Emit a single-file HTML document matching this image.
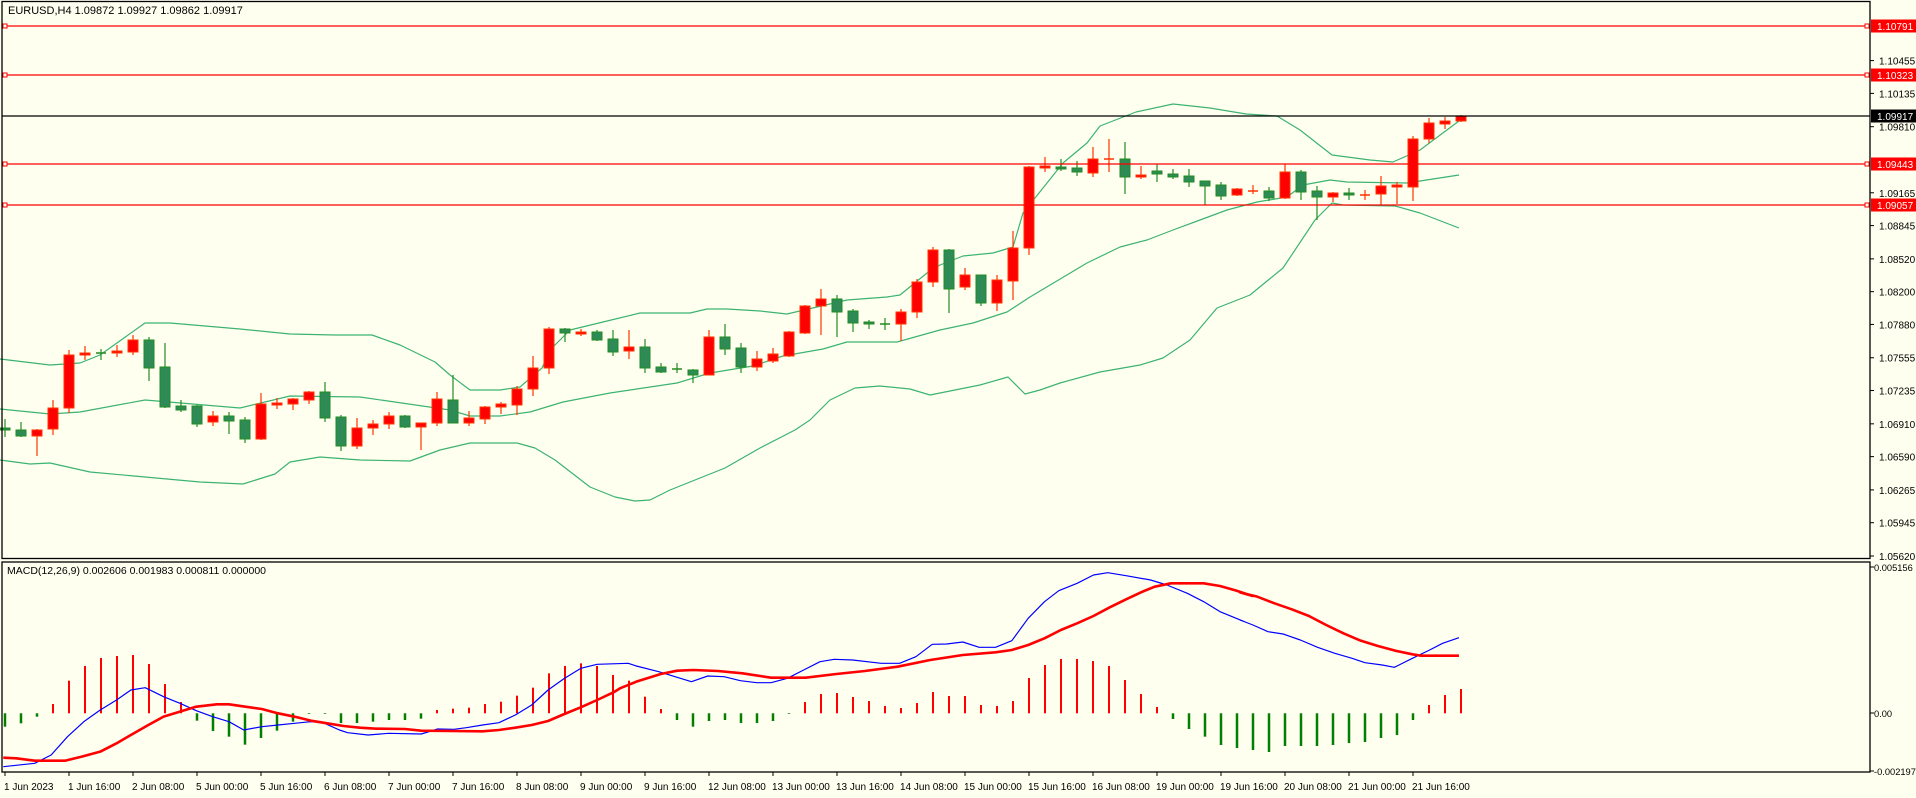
<!DOCTYPE html>
<html><head><meta charset="utf-8"><style>
html,body{margin:0;padding:0;background:#fffff0;}
svg{display:block;font-family:"Liberation Sans",sans-serif;}
</style></head><body>
<svg id="c" width="1916" height="798" viewBox="0 0 1916 798" xmlns="http://www.w3.org/2000/svg">
<rect x="0" y="0" width="1916" height="798" fill="#fffff0"/>
<g id="g"></g>
<text x="8" y="14" font-size="11" fill="#000">EURUSD,H4  1.09872 1.09927 1.09862 1.09917</text>
<text x="7" y="574" font-size="10.5" fill="#000">MACD(12,26,9) 0.002606 0.001983 0.000811 0.000000</text>
</svg>
<script>
const NS="http://www.w3.org/2000/svg",g=document.getElementById('g');
function el(t,a,txt){const e=document.createElementNS(NS,t);for(const k in a)e.setAttribute(k,a[k]);if(txt!==undefined)e.textContent=txt;g.appendChild(e);return e;}
const C=[['g',428,430,419,437],['g',430,436,422,437],['r',436,430,429,456],['r',429,408,400,435],['r',408,355,350,413],['r',355,353,346,360],['g',353,353,349,360],['r',353,351,345,357],['r',352,340,335,355],['g',340,368,337,381],
['g',367,407,343,408],['g',406,410,400,412],['g',406,424,405,427],['r',422,416,411,426],['g',416,421,412,434],['g',420,439,417,443],['r',439,404,393,440],['r',405,403,398,409],['r',404,399,398,410],['r',400,392,391,404],
['g',392,418,382,422],['g',417,446,415,451],['r',446,428,418,449],['r',428,424,420,435],['r',424,416,412,429],['g',416,427,415,428],['r',427,423,423,450],['r',423,399,392,426],['g',400,423,375,423],['r',423,418,411,426],
['r',419,407,406,424],['r',407,404,402,414],['r',405,389,386,415],['r',389,368,356,396],['r',368,329,327,374],['g',329,333,328,342],['r',334,332,329,336],['g',332,340,330,341],['g',339,352,330,356],['r',351,347,330,359],
['g',347,368,339,373],['g',367,372,363,373],['g',369,369,363,373],['g',370,375,369,383],['r',375,337,330,375],['g',337,349,324,355],['g',348,367,343,373],['r',367,359,351,371],['r',361,354,348,363],['r',356,332,331,357],
['r',333,306,305,334],['r',306,299,289,335],['g',299,312,295,337],['g',311,323,309,332],['g',322,324,320,329],['g',324,324,318,330],['r',324,312,309,341],['r',312,282,279,318],['r',282,250,247,287],['g',250,289,249,313],
['r',287,275,268,290],['g',275,303,275,306],['r',303,280,275,311],['r',281,248,231,300],['r',248,167,166,255],['r',168,166,157,172],['g',167,169,159,171],['g',168,172,161,176],['r',173,159,147,177],['r',159,159,139,172],
['g',159,177,142,194],['r',177,175,166,179],['g',171,174,164,182],['g',174,177,169,179],['g',176,182,169,187],['g',181,186,181,205],['g',185,196,182,200],['r',195,189,188,196],['r',191,191,185,194],['g',191,198,187,201],
['r',198,172,164,199],['g',172,192,170,200],['g',191,197,186,220],['r',197,193,192,202],['g',193,195,188,200],['r',195,195,190,200],['r',194,186,176,205],['r',187,185,182,204],['r',187,139,136,201],['r',139,123,118,143],
['r',124,121,117,129],['r',121,116,115,122]];
const X=i=>5+16*i;
function poly(pts,col,w){el('polyline',{points:pts.map(p=>p.join(',')).join(' '),fill:'none',stroke:col,'stroke-width':w,'stroke-linejoin':'round'});}
const up=[[0,359],[50,365],[80,363],[100,355],[145,323],[170,323],[240,329],[290,334],[335,335],[372,335],[400,345],[435,362],[450,375],[470,390],[500,390],[520,387],[542,368],[550,350],[570,330],[603,322],[640,313],[690,313],[707,309],[727,309],[760,311],[787,314],[817,307],[847,300],[887,297],[900,295],[927,273],[940,265],[963,256],[993,253],[1013,247],[1023,213],[1043,188],[1063,163],[1087,143],[1100,126],[1136,112],[1173,104],[1210,108],[1246,114],[1277,116],[1300,130],[1332,155],[1370,160],[1393,162],[1420,150],[1459,121]];
const mid=[[0,409],[50,414],[80,412],[145,400],[240,408],[290,396],[360,397],[450,410],[470,416],[500,416],[530,412],[563,402],[610,393],[677,383],[710,373],[753,366],[783,356],[823,349],[847,342],[897,342],[940,330],[973,323],[1007,312],[1030,297],[1087,263],[1120,247],[1147,240],[1173,230],[1200,220],[1227,210],[1257,202],[1287,197],[1303,185],[1330,180],[1347,182],[1407,183],[1459,175]];
const lo=[[0,460],[30,464],[50,463],[90,472],[145,477],[200,482],[243,484],[275,474],[290,462],[320,457],[360,460],[410,461],[440,450],[470,443],[517,443],[535,448],[555,460],[590,487],[615,497],[635,501],[650,500],[670,490],[700,478],[725,468],[760,448],[795,430],[810,420],[830,400],[855,388],[880,386],[910,389],[930,395],[955,390],[980,385],[1008,377],[1025,394],[1040,390],[1060,383],[1100,372],[1140,365],[1163,358],[1190,340],[1217,308],[1250,295],[1283,268],[1315,220],[1332,203],[1343,205],[1395,206],[1420,213],[1459,228]];
[up,mid,lo].forEach(p=>poly(p,'#3cb371',1.2));
C.forEach((c,i)=>{const x=X(i),red=c[0]=='r',fill=red?'#ff0000':'#2e8b57',st=red?'#ff3300':'#228b22';
el('line',{x1:x,y1:c[3],x2:x,y2:c[4],stroke:st,'stroke-width':1.2});
const t=Math.min(c[1],c[2]),h=Math.abs(c[1]-c[2]);
if(h<1)el('line',{x1:x-5,y1:t,x2:x+5,y2:t,stroke:st,'stroke-width':1.5});
else el('rect',{x:x-5,y:t,width:10,height:h,fill:fill,stroke:st,'stroke-width':1});});
[[26,'1.10791'],[75,'1.10323'],[164,'1.09443'],[205,'1.09057']].forEach(([y,t])=>{
el('line',{x1:2,y1:y,x2:1870,y2:y,stroke:'#ff0000','stroke-width':1.2});
el('rect',{x:3,y:y-2,width:4,height:4,fill:'#fffff0',stroke:'#ff0000','stroke-width':1});
el('rect',{x:1865,y:y-2,width:4,height:4,fill:'#fffff0',stroke:'#ff0000','stroke-width':1});});
el('line',{x1:2,y1:116,x2:1870,y2:116,stroke:'#000','stroke-width':1.2});
const ticks=['1.10455','1.10135','1.09810','1.09165','1.08845','1.08520','1.08200','1.07880','1.07555','1.07235','1.06910','1.06590','1.06265','1.05945','1.05620'];
ticks.forEach(t=>{const y=126.7+(1.09810-parseFloat(t))*10246;el('line',{x1:1870,y1:y,x2:1874,y2:y,stroke:'#000'});el('text',{x:1879,y:y+4,'font-size':10,fill:'#000'},t);});
[[26,'1.10791','#ff0000'],[75,'1.10323','#ff0000'],[116,'1.09917','#000'],[164,'1.09443','#ff0000'],[205,'1.09057','#ff0000']].forEach(([y,t,c])=>{
el('rect',{x:1871,y:y-6.5,width:45,height:13,fill:c});el('text',{x:1877,y:y+4,'font-size':10,fill:'#fff'},t);});
el('rect',{x:2,y:1.5,width:1868,height:557,fill:'none',stroke:'#000','stroke-width':1.3});
el('rect',{x:2,y:562,width:1868,height:210,fill:'none',stroke:'#000','stroke-width':1.3});
[[567,'0.005156'],[713,'0.00'],[771,'-0.002197']].forEach(([y,t])=>{el('line',{x1:1870,y1:y,x2:1874,y2:y,stroke:'#000'});el('text',{x:1874,y:y+4,'font-size':9.3,fill:'#000'},t);});
const H=[500,490,470,432,362,318,294,288,285,312,372,426,482,513,530,554,534,512,485,462,462,489,489,485,480,480,476,450,446,443,432,425,407,383,340,318,310,318,345,362,410,447,480,500,483,480,489,489,483,462,426,402,399,411,423,438,444,429,396,408,408,435,438,423,354,315,297,297,303,318,360,402,441,477,507,530,555,564,570,576,558,558,558,555,549,546,534,525,480,435,405,387];
H.forEach((v,i)=>{const y=560+v/3,x=X(i),r=v<460;el('line',{x1:x,y1:713.3,x2:x,y2:y,stroke:r?'#ff0000':'#008000','stroke-width':r?2:2.5});});
const tr=(a,ox,sx)=>a.map(([x,y])=>[ox+x/sx,560+y/3]);
const b7=[[8,620],[85,610],[125,585],[165,530],[205,485],[245,450],[285,420],[320,390],[355,383],[400,410],[440,430],[480,452],[520,470],[560,485],[596,510],[640,500],[680,495],[720,490],[760,485],[790,488],[830,510],[850,518],[900,525],[950,520],[1030,522],[1070,507],[1110,508],[1140,503],[1180,495],[1220,488],[1260,465],[1300,435],[1340,390],[1380,355],[1420,325],[1460,313],[1536,310]];
const r7=[[8,593],[40,595],[85,602],[160,602],[200,590],[245,575],[285,550],[320,525],[360,497],[400,470],[440,455],[480,440],[530,433],[560,433],[600,440],[640,447],[680,460],[720,470],[760,482],[800,490],[840,498],[880,503],[920,506],[990,507],[1030,512],[1100,513],[1180,514],[1220,510],[1260,503],[1300,495],[1340,483],[1380,462],[1420,442],[1460,420],[1500,397]];
const b8=[[40,318],[95,335],[175,365],[215,348],[255,350],[295,362],[335,368],[370,368],[410,355],[450,330],[490,305],[525,298],[570,300],[640,310],[685,310],[725,290],[765,253],[800,252],[840,246],[880,262],[920,262],[960,242],[1000,175],[1040,125],[1075,92],[1120,70],[1160,45],[1195,38],[1240,47],[1300,60],[1340,75],[1390,100],[1430,125],[1470,155],[1530,185]];
const r8=[[0,385],[40,365],[100,342],[140,332],[180,330],[240,333],[300,340],[370,353],[455,353],[530,342],[600,333],[680,320],[760,300],[840,285],[920,277],[960,270],[1000,255],[1040,235],[1080,210],[1120,190],[1160,168],[1200,142],[1240,118],[1280,95],[1310,80],[1350,70],[1430,70],[1470,78],[1510,92],[1550,108]];
const b9=[[0,180],[30,195],[65,215],[100,222],[140,240],[180,262],[220,280],[260,295],[290,308],[330,315],[358,322],[400,295],[440,270],[470,250],[508,233]];
const r9=[[0,97],[40,110],[80,130],[120,148],[160,168],[200,195],[240,220],[280,242],[320,258],[360,272],[400,283],[420,287],[508,287]];
poly([...tr(b7,0,2.445),...tr(b8,620,2.45),...tr(b9,1240,2.32)],'#0000ff',1.2);
poly([...tr(r7,0,2.445),...tr(r8,620,2.45),...tr(r9,1240,2.32)],'#ff0000',2.6);
const L=['1 Jun 2023','1 Jun 16:00','2 Jun 08:00','5 Jun 00:00','5 Jun 16:00','6 Jun 08:00','7 Jun 00:00','7 Jun 16:00','8 Jun 08:00','9 Jun 00:00','9 Jun 16:00','12 Jun 08:00','13 Jun 00:00','13 Jun 16:00','14 Jun 08:00','15 Jun 00:00','15 Jun 16:00','16 Jun 08:00','19 Jun 00:00','19 Jun 16:00','20 Jun 08:00','21 Jun 00:00','21 Jun 16:00'];
L.forEach((t,k)=>{const x=X(4*k);el('line',{x1:x,y1:772,x2:x,y2:776,stroke:'#000'});el('text',{x:x-1,y:790,'font-size':10,fill:'#000'},t);});
</script>
</body></html>
